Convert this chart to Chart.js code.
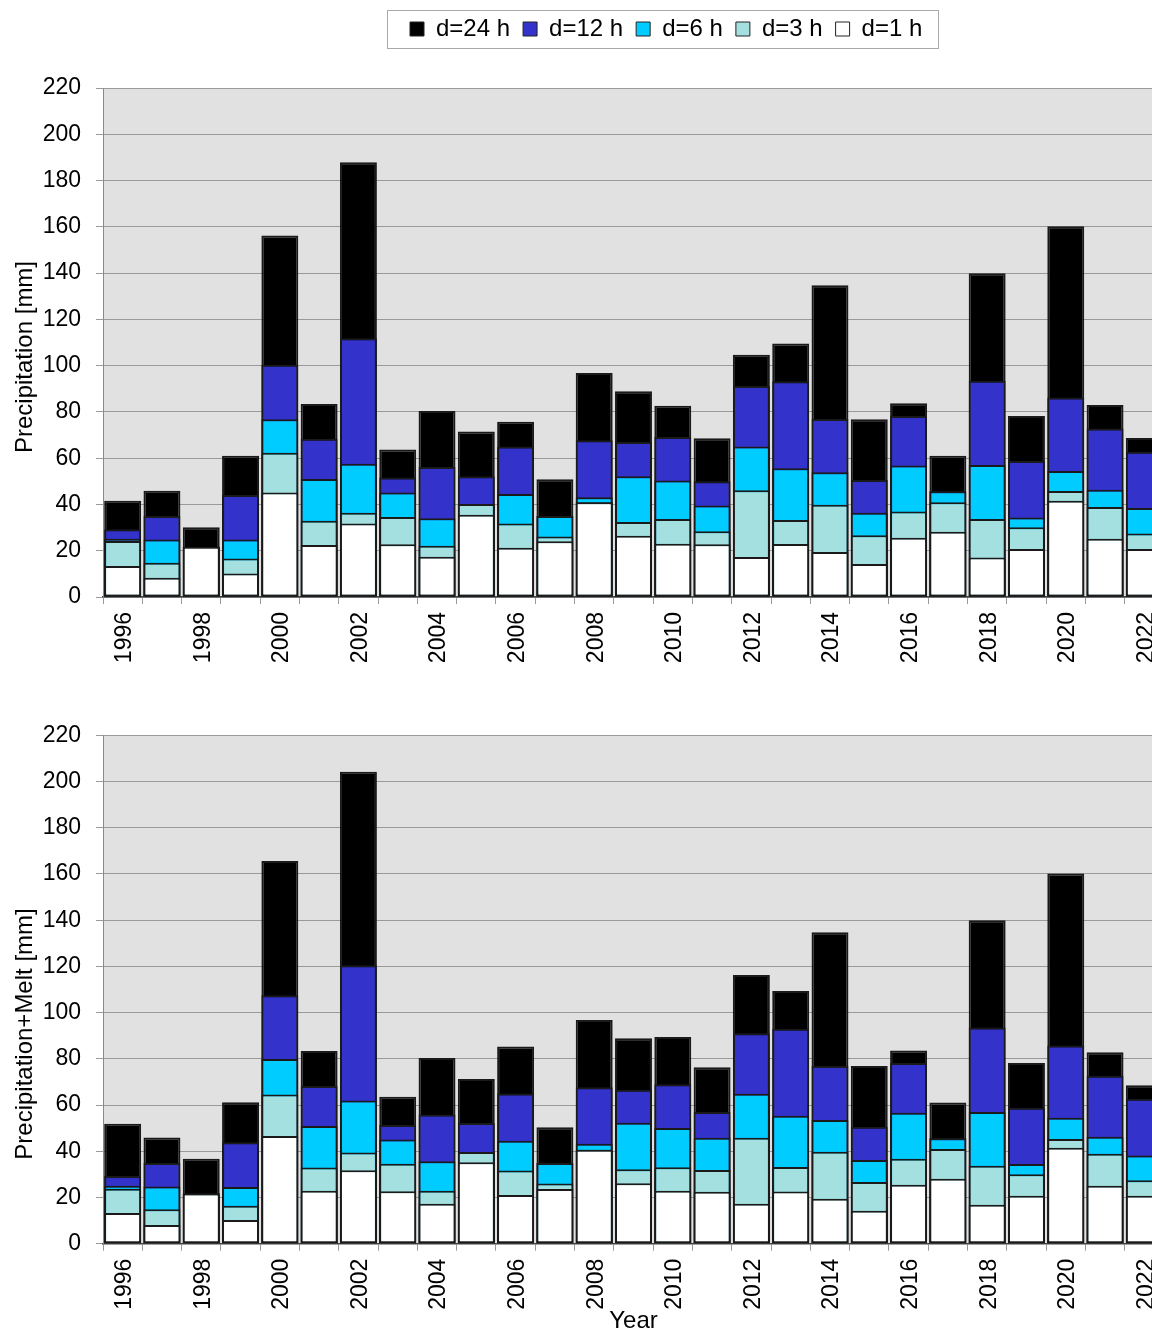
<!DOCTYPE html>
<html>
<head>
<meta charset="utf-8">
<script src="https://cdn.jsdelivr.net/npm/chart.js@4/dist/chart.umd.min.js"></script>
<style>
  html, body { margin: 0; padding: 0; background: #fff; overflow: hidden; width: 1152px; height: 1329px; }
  #c1 { position: absolute; left: 0; top: 0; }
  #c2 { position: absolute; left: 0; top: 680px; }
</style>
</head>
<body>
<canvas id="c1" width="1200" height="680"></canvas>
<canvas id="c2" width="1200" height="660"></canvas>
<script>
// ---------- data ----------
const years = ['1996','1997','1998','1999','2000','2001','2002','2003','2004','2005','2006','2007','2008','2009','2010','2011','2012','2013','2014','2015','2016','2017','2018','2019','2020','2021','2022'];
const seriesLabels = ['d=24 h', 'd=12 h', 'd=6 h', 'd=3 h', 'd=1 h'];
const yTicks = [0, 20, 40, 60, 80, 100, 120, 140, 160, 180, 200, 220];

// Precipitation [mm]
const precip1h  = [13.4, 8.3, 21.7, 10.2, 45.2, 22.5, 31.8, 22.8, 17.4, 35.6, 21.3, 24.1, 40.9, 26.5, 23.0, 22.8, 17.3, 22.9, 19.4, 14.3, 25.6, 28.2, 17.1, 20.7, 41.6, 25.2, 20.7];
const precip3h  = [24.2, 14.8, 21.7, 16.6, 62.4, 33.0, 36.4, 34.6, 22.2, 40.2, 31.8, 26.1, 40.9, 32.4, 33.7, 28.4, 46.1, 33.3, 39.9, 26.7, 37.0, 40.9, 33.7, 30.1, 45.8, 38.9, 27.5];
const precip6h  = [25.2, 24.9, 21.7, 24.9, 76.8, 51.0, 57.6, 45.2, 34.0, 40.2, 44.5, 35.0, 43.1, 52.2, 50.3, 39.5, 65.1, 55.6, 53.9, 36.4, 56.8, 45.7, 57.1, 34.4, 54.5, 46.4, 38.5];
const precip12h = [29.3, 35.0, 21.7, 44.1, 100.4, 68.4, 111.8, 51.6, 56.2, 52.2, 65.1, 35.0, 67.7, 67.0, 69.2, 50.0, 91.2, 93.2, 76.9, 50.6, 78.2, 45.7, 93.5, 58.8, 86.2, 72.8, 62.8];
const precip24h = [41.6, 45.9, 30.1, 61.1, 156.2, 83.4, 187.9, 63.8, 80.4, 71.5, 75.8, 50.9, 96.8, 88.9, 82.7, 68.6, 104.7, 109.6, 134.7, 76.8, 83.7, 61.1, 139.9, 78.2, 160.2, 83.0, 68.7];

// Precipitation+Melt [mm]
const melt1h  = [13.3, 8.1, 21.7, 10.3, 46.6, 22.9, 31.8, 22.7, 17.3, 35.2, 21.1, 23.7, 40.7, 26.2, 22.9, 22.5, 17.3, 22.6, 19.5, 14.3, 25.5, 28.1, 16.9, 20.8, 41.5, 25.1, 20.8];
const melt3h  = [23.8, 14.9, 21.7, 16.4, 64.6, 33.0, 39.5, 34.6, 22.9, 39.7, 31.7, 26.1, 40.7, 32.2, 33.1, 31.9, 45.9, 33.2, 39.8, 26.7, 36.8, 41.0, 33.7, 30.1, 45.3, 38.9, 27.5];
const melt6h  = [25.1, 24.7, 21.7, 24.5, 79.9, 50.9, 62.0, 45.1, 35.7, 39.7, 44.5, 34.9, 43.2, 52.3, 50.1, 45.9, 64.9, 55.4, 53.5, 36.2, 56.7, 45.6, 57.0, 34.5, 54.5, 46.3, 38.2];
const melt12h = [29.3, 34.9, 21.7, 43.9, 107.5, 68.2, 120.5, 51.4, 55.9, 52.2, 65.0, 34.9, 67.7, 66.6, 69.0, 57.0, 91.1, 93.0, 76.9, 50.6, 78.2, 45.6, 93.6, 58.8, 85.8, 72.7, 62.7];
const melt24h = [51.9, 46.0, 36.8, 61.2, 165.6, 83.4, 204.2, 63.6, 80.4, 71.3, 85.3, 50.4, 96.8, 88.9, 89.4, 76.4, 116.3, 109.4, 134.8, 76.9, 83.6, 61.1, 140.0, 78.2, 160.2, 82.9, 68.6];

// ---------- style ----------
const FAMILY = '"Liberation Sans", Arial, Helvetica, sans-serif';
const colors = ['#000000', '#3333cc', '#00ccff', '#a4e0e0', '#ffffff'];
Chart.defaults.font.family = FAMILY;
Chart.defaults.color = '#000';

function buildDatasets(s24, s12, s6, s3, s1) {
  const vals = [s24, s12, s6, s3, s1];
  return vals.map((v, i) => ({
    label: seriesLabels[i],
    data: v,
    backgroundColor: colors[i],
    borderColor: '#1a1a1a',
    borderWidth: 2,
    borderSkipped: false,
    grouped: false,
    order: 5 - i,            // d=1 h drawn on top, d=24 h at the back
    barPercentage: 0.94,
    categoryPercentage: 1.0
  }));
}

const plotBg = {
  id: 'plotBg',
  beforeDraw(chart) {
    const a = chart.chartArea, ctx = chart.ctx;
    ctx.save();
    ctx.fillStyle = '#e1e1e1';
    ctx.fillRect(a.left, a.top, a.right - a.left, a.bottom - a.top);
    ctx.restore();
  }
};

function yTitlePlugin(text, cy) {
  return {
    id: 'yTitle',
    afterDraw(chart) {
      const ctx = chart.ctx;
      ctx.save();
      ctx.translate(32, cy);
      ctx.rotate(-Math.PI / 2);
      ctx.font = '24px ' + FAMILY;
      ctx.fillStyle = '#000';
      ctx.textAlign = 'center';
      ctx.textBaseline = 'alphabetic';
      ctx.fillText(text, 0, 0);
      ctx.restore();
    }
  };
}

function xTitlePlugin(text, baseY) {
  return {
    id: 'xTitle',
    afterDraw(chart) {
      const a = chart.chartArea, ctx = chart.ctx;
      ctx.save();
      ctx.font = '24px ' + FAMILY;
      ctx.fillStyle = '#000';
      ctx.textAlign = 'center';
      ctx.textBaseline = 'alphabetic';
      ctx.fillText(text, (a.left + a.right) / 2, baseY);
      ctx.restore();
    }
  };
}

const legendPlace = {
  id: 'legendPlace',
  afterLayout(chart) {
    const L = chart.legend;
    if (!L || !L.options.display) return;
    const h = L.height;
    const p = L.options.labels.padding;
    L.top = 17 - p; L.bottom = L.top + h;
    L.left = 410 - p; L.right = chart.width; L.width = L.right - L.left;
  },
  afterDraw(chart) {
    const L = chart.legend;
    if (!L || !L.options.display || !L.legendHitBoxes.length) return;
    const hb = L.legendHitBoxes;
    const first = hb[0], last = hb[hb.length - 1];
    const x0 = Math.round(first.left - 23) + 0.5;
    const x1 = Math.round(last.left + last.width + 16) + 0.5;
    const ctx = chart.ctx;
    ctx.save();
    ctx.strokeStyle = '#aaaaaa';
    ctx.lineWidth = 1;
    ctx.strokeRect(x0, 10.5, x1 - x0, 38);
    ctx.restore();
  }
};

function makeOptions(showLegend) {
  return {
    responsive: false,
    animation: false,
    events: [],
    layout: { padding: { left: 0, right: 36, top: showLegend ? 37 : 40, bottom: 0 } },
    plugins: {
      legend: {
        display: showLegend,
        position: 'top',
        align: 'start',
        reverse: true,
        labels: {
          boxWidth: 14,
          boxHeight: 14,
          padding: 13,
          color: '#000',
          font: { size: 24, family: FAMILY },
          generateLabels(chart) {
            return Chart.defaults.plugins.legend.labels.generateLabels(chart)
              .map(l => Object.assign(l, { lineWidth: 1, strokeStyle: '#222' }));
          }
        }
      },
      tooltip: { enabled: false },
      title: { display: false }
    },
    scales: {
      x: {
        type: 'category',
        offset: true,
        ticks: {
          autoSkip: false,
          minRotation: 90,
          maxRotation: 90,
          padding: 8,
          labelOffset: 2,
          color: '#000',
          font: { size: 23, family: FAMILY },
          callback(value, index) { return index % 2 === 0 ? years[index] : ''; }
        },
        grid: { offset: true, drawOnChartArea: false, drawTicks: true, tickLength: 7, color: '#999999', lineWidth: 1 },
        border: { display: true, color: '#444444', width: 1.5 }
      },
      y: {
        min: 0,
        max: 220,
        afterBuildTicks(scale) { scale.ticks = yTicks.map(v => ({ value: v })); },
        ticks: { color: '#000', padding: 15, font: { size: 23, family: FAMILY } },
        grid: { color: '#9a9a9a', lineWidth: 1, drawTicks: true, tickLength: 7 },
        border: { display: true, color: '#8a8a8a', width: 1 }
      }
    }
  };
}

function fitArea(chart, T) {
  for (let k = 0; k < 3; k++) {
    const a = chart.chartArea;
    const p = chart.options.layout.padding;
    p.left += T.left - a.left;
    p.top += T.top - a.top;
    p.right += a.right - T.right;
    p.bottom += a.bottom - T.bottom;
    chart.update('none');
  }
}

// ---------- top chart ----------
const chart1 = new Chart(document.getElementById('c1'), {
  type: 'bar',
  data: { labels: years, datasets: buildDatasets(precip24h, precip12h, precip6h, precip3h, precip1h) },
  options: makeOptions(true),
  plugins: [plotBg, legendPlace, yTitlePlugin('Precipitation [mm]', 357)]
});
fitArea(chart1, { left: 103, right: 1164, top: 88, bottom: 597 });

// ---------- bottom chart ----------
const chart2 = new Chart(document.getElementById('c2'), {
  type: 'bar',
  data: { labels: years, datasets: buildDatasets(melt24h, melt12h, melt6h, melt3h, melt1h) },
  options: makeOptions(false),
  plugins: [plotBg, yTitlePlugin('Precipitation+Melt [mm]', 354), xTitlePlugin('Year', 648)]
});
fitArea(chart2, { left: 103, right: 1164, top: 55.3, bottom: 563.7 });
</script>
</body>
</html>
